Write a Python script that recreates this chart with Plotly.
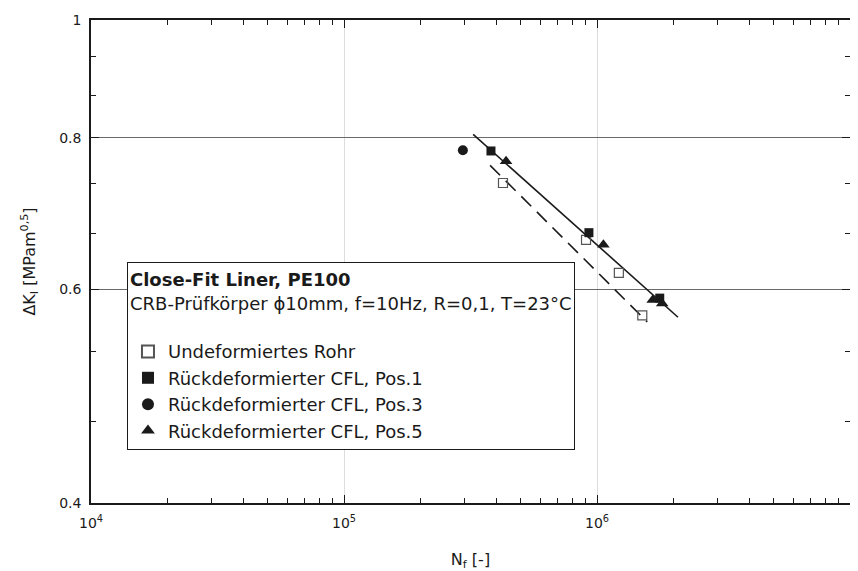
import plotly.graph_objects as go

# ---- data ----
N_undeformed = [4.25e5, 9.05e5, 1.22e6, 1.51e6]
K_undeformed = [0.734, 0.659, 0.619, 0.571]

N_pos1 = [3.81e5, 9.29e5, 1.77e6]
K_pos1 = [0.780, 0.668, 0.590]

N_pos3 = [2.95e5]
K_pos3 = [0.781]

N_pos5 = [4.37e5, 1.06e6, 1.66e6, 1.81e6]
K_pos5 = [0.765, 0.653, 0.588, 0.584]

fit_solid_N = [3.24e5, 2.09e6]
fit_solid_K = [0.805, 0.569]
fit_dashed_N = [3.78e5, 1.58e6]
fit_dashed_K = [0.759, 0.564]

series_names = ["Undeformiertes Rohr",
                "Rückdeformierter CFL, Pos.1",
                "Rückdeformierter CFL, Pos.3",
                "Rückdeformierter CFL, Pos.5"]

x_tickvals = [1e4, 1e5, 1e6, 1e7]
x_ticktext = ["10<sup>4</sup>", "10<sup>5</sup>", "10<sup>6</sup>", "10<sup>7</sup>"]
x_minor = [m * d for d in (1e4, 1e5, 1e6) for m in (2, 3, 4, 5, 6, 7, 8, 9)]
y_tickvals = [0.4, 0.6, 0.8, 1.0]
y_ticktext = ["0.4", "0.6", "0.8", "1"]
y_minor = [0.4667, 0.5333, 0.6667, 0.7333, 0.8667, 0.9333]

FONT = "DejaVu Sans"
INK = "#1a1a1a"

fig = go.Figure()

fig.add_trace(go.Scatter(x=fit_solid_N, y=fit_solid_K, mode="lines",
                         line=dict(color=INK, width=1.6), showlegend=False,
                         hoverinfo="skip"))
fig.add_trace(go.Scatter(x=fit_dashed_N, y=fit_dashed_K, mode="lines",
                         line=dict(color=INK, width=1.6, dash="14px,8px"),
                         showlegend=False, hoverinfo="skip"))

fig.add_trace(go.Scatter(x=N_undeformed, y=K_undeformed, mode="markers",
                         name=series_names[0],
                         marker=dict(symbol="square-open", size=9, color="#555",
                                     line=dict(width=1.2, color="#555"))))
fig.add_trace(go.Scatter(x=N_pos1, y=K_pos1, mode="markers", name=series_names[1],
                         marker=dict(symbol="square", size=9, color=INK)))
fig.add_trace(go.Scatter(x=N_pos3, y=K_pos3, mode="markers", name=series_names[2],
                         marker=dict(symbol="circle", size=10, color=INK)))
fig.add_trace(go.Scatter(x=N_pos5, y=K_pos5, mode="markers", name=series_names[3],
                         marker=dict(symbol="triangle-up", size=11, color=INK)))

# the page body adds an 8px offset, so the figure is drawn 8px smaller
fig.update_layout(
    width=850, height=563,
    margin=dict(l=83, r=8, t=12, b=68),
    paper_bgcolor="white", plot_bgcolor="white",
    font=dict(family=FONT, size=14, color=INK),
    legend=dict(
        x=0.0474, y=0.499, xanchor="left", yanchor="top",
        bgcolor="white", bordercolor=INK, borderwidth=1,
        font=dict(family=FONT, size=18, color=INK),
        title=dict(text="<b>Close-Fit Liner, PE100</b><br>CRB-Prüfkörper ϕ10mm, f=10Hz, R=0,1, T=23°C<br> ",
                   font=dict(family=FONT, size=18, color=INK), side="top"),
        tracegroupgap=0, itemsizing="constant",
    ),
    xaxis=dict(
        type="log", range=[4, 7], automargin=False,
        tickvals=x_tickvals, ticktext=x_ticktext,
        ticks="inside", ticklen=8, tickcolor=INK, tickwidth=1,
        ticklabelstandoff=6,
        showline=True, linecolor=INK, linewidth=1.5, mirror="allticks",
        showgrid=True, gridcolor="#dcdcdc", gridwidth=1,
        zeroline=False,
        minor=dict(tickmode="array", tickvals=x_minor, ticks="inside", ticklen=5,
                   tickcolor=INK, showgrid=False),
        title=dict(text="N<sub>f</sub> [-]", font=dict(family=FONT, size=16), standoff=25),
        tickfont=dict(family=FONT, size=14),
    ),
    yaxis=dict(
        type="log", range=[-0.39794, 0], automargin=False,
        tickvals=y_tickvals, ticktext=y_ticktext,
        ticks="inside", ticklen=8, tickcolor=INK, tickwidth=1,
        ticklabelstandoff=5,
        showline=True, linecolor=INK, linewidth=1.5, mirror="allticks",
        showgrid=True, gridcolor="#6a6a6a", gridwidth=1,
        zeroline=False,
        minor=dict(tickmode="array", tickvals=y_minor, ticks="inside", ticklen=5,
                   tickcolor=INK, showgrid=False),
        title=dict(text="ΔK<sub>I</sub> [MPam<sup>0,5</sup>]", font=dict(family=FONT, size=16),
                   standoff=20),
        tickfont=dict(family=FONT, size=14),
    ),
)

fig.write_html("out.html")
